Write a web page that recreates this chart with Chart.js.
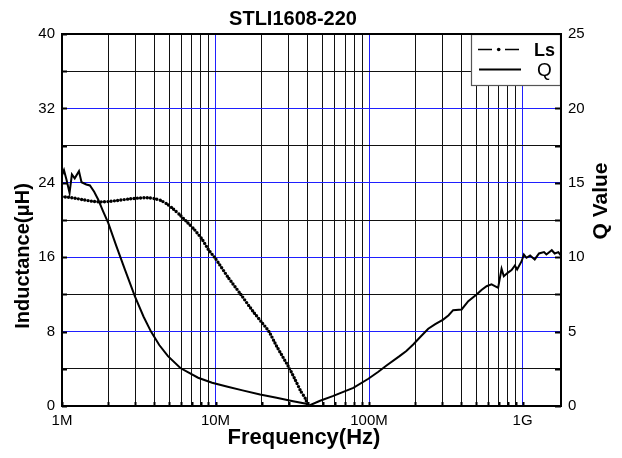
<!DOCTYPE html>
<html><head><meta charset="utf-8">
<script src="https://cdn.jsdelivr.net/npm/chart.js@4"></script>
<style>html,body{margin:0;padding:0;background:#fff}#wrap{width:622px;height:458px}</style>
</head><body><div id="wrap"><canvas id="c" width="622" height="458"></canvas></div>
<script>
const chartTitle = 'STLI1608-220';
const xTitle = 'Frequency(Hz)';
const yTitle = 'Inductance(\u03BCH)';
const y2Title = 'Q Value';
const legendLabels = ['Ls', 'Q'];

const lsFreq = [1.0e6,1.1e6,1.25e6,1.4e6,1.6e6,1.8e6,2.0e6,2.3e6,2.7e6,3.1e6,3.6e6,4.0e6,4.4e6,4.8e6,5.3e6,5.9e6,6.6e6,7.3e6,8.2e6,9.0e6,10e6,12e6,14.6e6,17.5e6,20e6,22.3e6,25e6,27.5e6,30.4e6,33e6,36e6,38.5e6,40.1e6];
const lsValues = [22.5,22.45,22.3,22.15,22.0,21.95,21.98,22.1,22.25,22.35,22.4,22.3,22.1,21.75,21.2,20.5,19.7,18.95,17.9,16.8,15.85,13.9,12.0,10.2,9.0,8.0,6.43,5.25,4.0,2.84,1.57,0.8,0.0];

const qFreq = [1.0e6,1.03e6,1.07e6,1.12e6,1.16e6,1.21e6,1.29e6,1.34e6,1.44e6,1.52e6,1.62e6,1.72e6,1.85e6,2.0e6,2.26e6,2.57e6,2.98e6,3.4e6,3.8e6,4.3e6,4.9e6,5.9e6,7.7e6,9.5e6,12e6,15e6,19.5e6,25e6,32e6,39e6,40.5e6,48e6,58e6,68e6,79e6,99e6,115e6,130e6,158e6,175e6,194e6,214e6,243e6,270e6,304e6,330e6,353e6,401e6,443e6,502e6,540e6,583e6,628e6,693e6,730e6,755e6,800e6,848e6,891e6,922e6,986e6,1.02e9,1.06e9,1.12e9,1.2e9,1.28e9,1.38e9,1.43e9,1.55e9,1.62e9,1.71e9,1.78e9];
const qValues = [15.5,15.85,15.2,14.33,15.56,15.3,15.78,15.04,14.89,14.82,14.4,13.88,13.1,12.31,10.74,9.17,7.38,6.0,5.0,4.1,3.35,2.55,1.9,1.56,1.3,1.05,0.77,0.55,0.32,0.15,0.02,0.35,0.66,0.95,1.22,1.83,2.3,2.72,3.35,3.7,4.13,4.6,5.19,5.5,5.81,6.1,6.44,6.49,7.04,7.49,7.8,8.05,8.17,7.94,9.22,8.72,8.95,9.13,9.44,9.17,9.73,10.18,9.96,10.11,9.85,10.25,10.34,10.18,10.47,10.25,10.34,10.1];

const decadeTicks = [1e6, 1e7, 1e8, 1e9];
const decadeLabels = ['1M', '10M', '100M', '1G'];
const minorMultipliers = [2,3,4,5,6,7,8,9];
const xMin = 1e6, xMax = 1.78e9;
const yLeftMax = 40, yLeftStep = 4, yLeftLabelStep = 8;
const yRightMax = 25, yRightStep = 5;

const BLUE = '#1f1fff', DARK = '#111';
const xTickValues = [];
decadeTicks.forEach(d => { xTickValues.push(d); minorMultipliers.forEach(m => { if (m*d <= xMax) xTickValues.push(m*d); }); });
xTickValues.sort((a,b)=>a-b);

const tickFont = {family: "'Liberation Sans', Arial, sans-serif", size: 15};

const decorPlugin = {
  id: 'decor',
  afterDatasetsDraw(chart) {
    const ctx = chart.ctx, a = chart.chartArea;
    const ys = chart.scales.y, xs = chart.scales.x;
    ctx.save();
    ctx.strokeStyle = '#000'; ctx.lineWidth = 2;
    for (let v = 0; v <= yLeftMax; v += yLeftStep) {
      const py = Math.round(ys.getPixelForValue(v)) + 0.5;
      ctx.beginPath(); ctx.moveTo(a.left, py); ctx.lineTo(a.left + 5, py); ctx.stroke();
      ctx.beginPath(); ctx.moveTo(a.right, py); ctx.lineTo(a.right - 6, py); ctx.stroke();
    }
    xTickValues.forEach(v => {
      const px = Math.round(xs.getPixelForValue(v)) + 0.5;
      ctx.beginPath(); ctx.moveTo(px, a.bottom); ctx.lineTo(px, a.bottom - 4); ctx.stroke();
    });
    const lx = 471, ly = a.top, lw = a.right - 471, lh = 52;
    ctx.fillStyle = '#fff'; ctx.fillRect(lx, ly, lw, lh);
    ctx.strokeStyle = '#555'; ctx.lineWidth = 1.2; ctx.strokeRect(lx + 0.5, ly + 0.5, lw - 1, lh - 1);
    ctx.strokeStyle = '#000'; ctx.lineWidth = 1.3;
    ctx.beginPath(); ctx.moveTo(478, 49.5); ctx.lineTo(492, 49.5); ctx.moveTo(505, 49.5); ctx.lineTo(519, 49.5); ctx.stroke();
    ctx.fillStyle = '#000'; ctx.beginPath(); ctx.arc(498.7, 49.5, 1.8, 0, Math.PI*2); ctx.fill();
    ctx.lineWidth = 1.8;
    ctx.beginPath(); ctx.moveTo(479, 69.5); ctx.lineTo(521, 69.5); ctx.stroke();
    ctx.textBaseline = 'alphabetic'; ctx.textAlign = 'left';
    ctx.font = "bold 18px 'Liberation Sans', Arial, sans-serif";
    ctx.fillText(legendLabels[0], 534, 56);
    ctx.font = "19px 'Liberation Sans', Arial, sans-serif";
    ctx.fillText(legendLabels[1], 537, 76);
    ctx.strokeStyle = '#000'; ctx.lineWidth = 2;
    ctx.strokeRect(a.left, a.top, a.right - a.left, a.bottom - a.top);
    ctx.fillStyle = '#000';
    ctx.textAlign = 'center'; ctx.textBaseline = 'alphabetic';
    ctx.font = "bold 20px 'Liberation Sans', Arial, sans-serif";
    ctx.fillText(chartTitle, 293, 25);
    ctx.font = "bold 22px 'Liberation Sans', Arial, sans-serif";
    ctx.fillText(xTitle, 304, 444);
    ctx.textBaseline = 'middle';
    ctx.font = "bold 20px 'Liberation Sans', Arial, sans-serif";
    ctx.save(); ctx.translate(23, 256); ctx.rotate(-Math.PI/2); ctx.fillText(yTitle, 0, 0); ctx.restore();
    ctx.font = "bold 21px 'Liberation Sans', Arial, sans-serif";
    ctx.save(); ctx.translate(601, 201); ctx.rotate(-Math.PI/2); ctx.fillText(y2Title, 0, 0); ctx.restore();
    ctx.restore();
  }
};

new Chart(document.getElementById('c'), {
  type: 'line',
  data: {
    datasets: [
      {
        label: legendLabels[0],
        data: lsFreq.map((f, i) => ({x: f, y: lsValues[i]})),
        yAxisID: 'y',
        borderColor: '#000',
        borderWidth: 3.4,
        borderDash: [0, 3.3],
        borderCapStyle: 'round',
        pointRadius: 0,
        tension: 0.2,
        fill: false
      },
      {
        label: legendLabels[1],
        data: qFreq.map((f, i) => ({x: f, y: qValues[i]})),
        yAxisID: 'y1',
        borderColor: '#000',
        borderWidth: 2,
        pointRadius: 0,
        tension: 0,
        fill: false
      }
    ]
  },
  options: {
    responsive: false,
    animation: false,
    devicePixelRatio: 1,
    layout: {padding: {top: 34, left: 0, right: 0, bottom: 0}},
    plugins: {legend: {display: false}, title: {display: false}, tooltip: {enabled: false}},
    scales: {
      x: {
        type: 'logarithmic',
        position: 'bottom',
        min: xMin, max: xMax,
        afterBuildTicks: s => { s.ticks = xTickValues.map(v => ({value: v})); },
        afterFit: s => { s.height = 52; },
        border: {display: false},
        grid: {
          drawTicks: false,
          lineWidth: 1,
          color: c => (c.tick && decadeTicks.includes(c.tick.value)) ? BLUE : DARK
        },
        ticks: {
          autoSkip: false, maxRotation: 0, padding: 6, color: '#000', font: tickFont,
          callback: v => { const i = decadeTicks.indexOf(v); return i >= 0 ? decadeLabels[i] : ''; }
        }
      },
      y: {
        position: 'left',
        min: 0, max: yLeftMax,
        afterFit: s => { s.width = 62; },
        border: {display: false},
        grid: {
          drawTicks: false,
          lineWidth: 1,
          color: c => (c.tick && c.tick.value % yLeftLabelStep === 0) ? BLUE : DARK
        },
        ticks: {
          stepSize: yLeftStep, autoSkip: false, padding: 7, color: '#000', font: tickFont,
          callback: v => (v % yLeftLabelStep === 0 ? String(v) : '')
        }
      },
      y1: {
        position: 'right',
        min: 0, max: yRightMax,
        afterFit: s => { s.width = 61; },
        border: {display: false},
        grid: {display: false, drawTicks: false},
        ticks: {stepSize: yRightStep, padding: 7, color: '#000', font: tickFont}
      }
    }
  },
  plugins: [decorPlugin]
});
</script>
</body></html>
